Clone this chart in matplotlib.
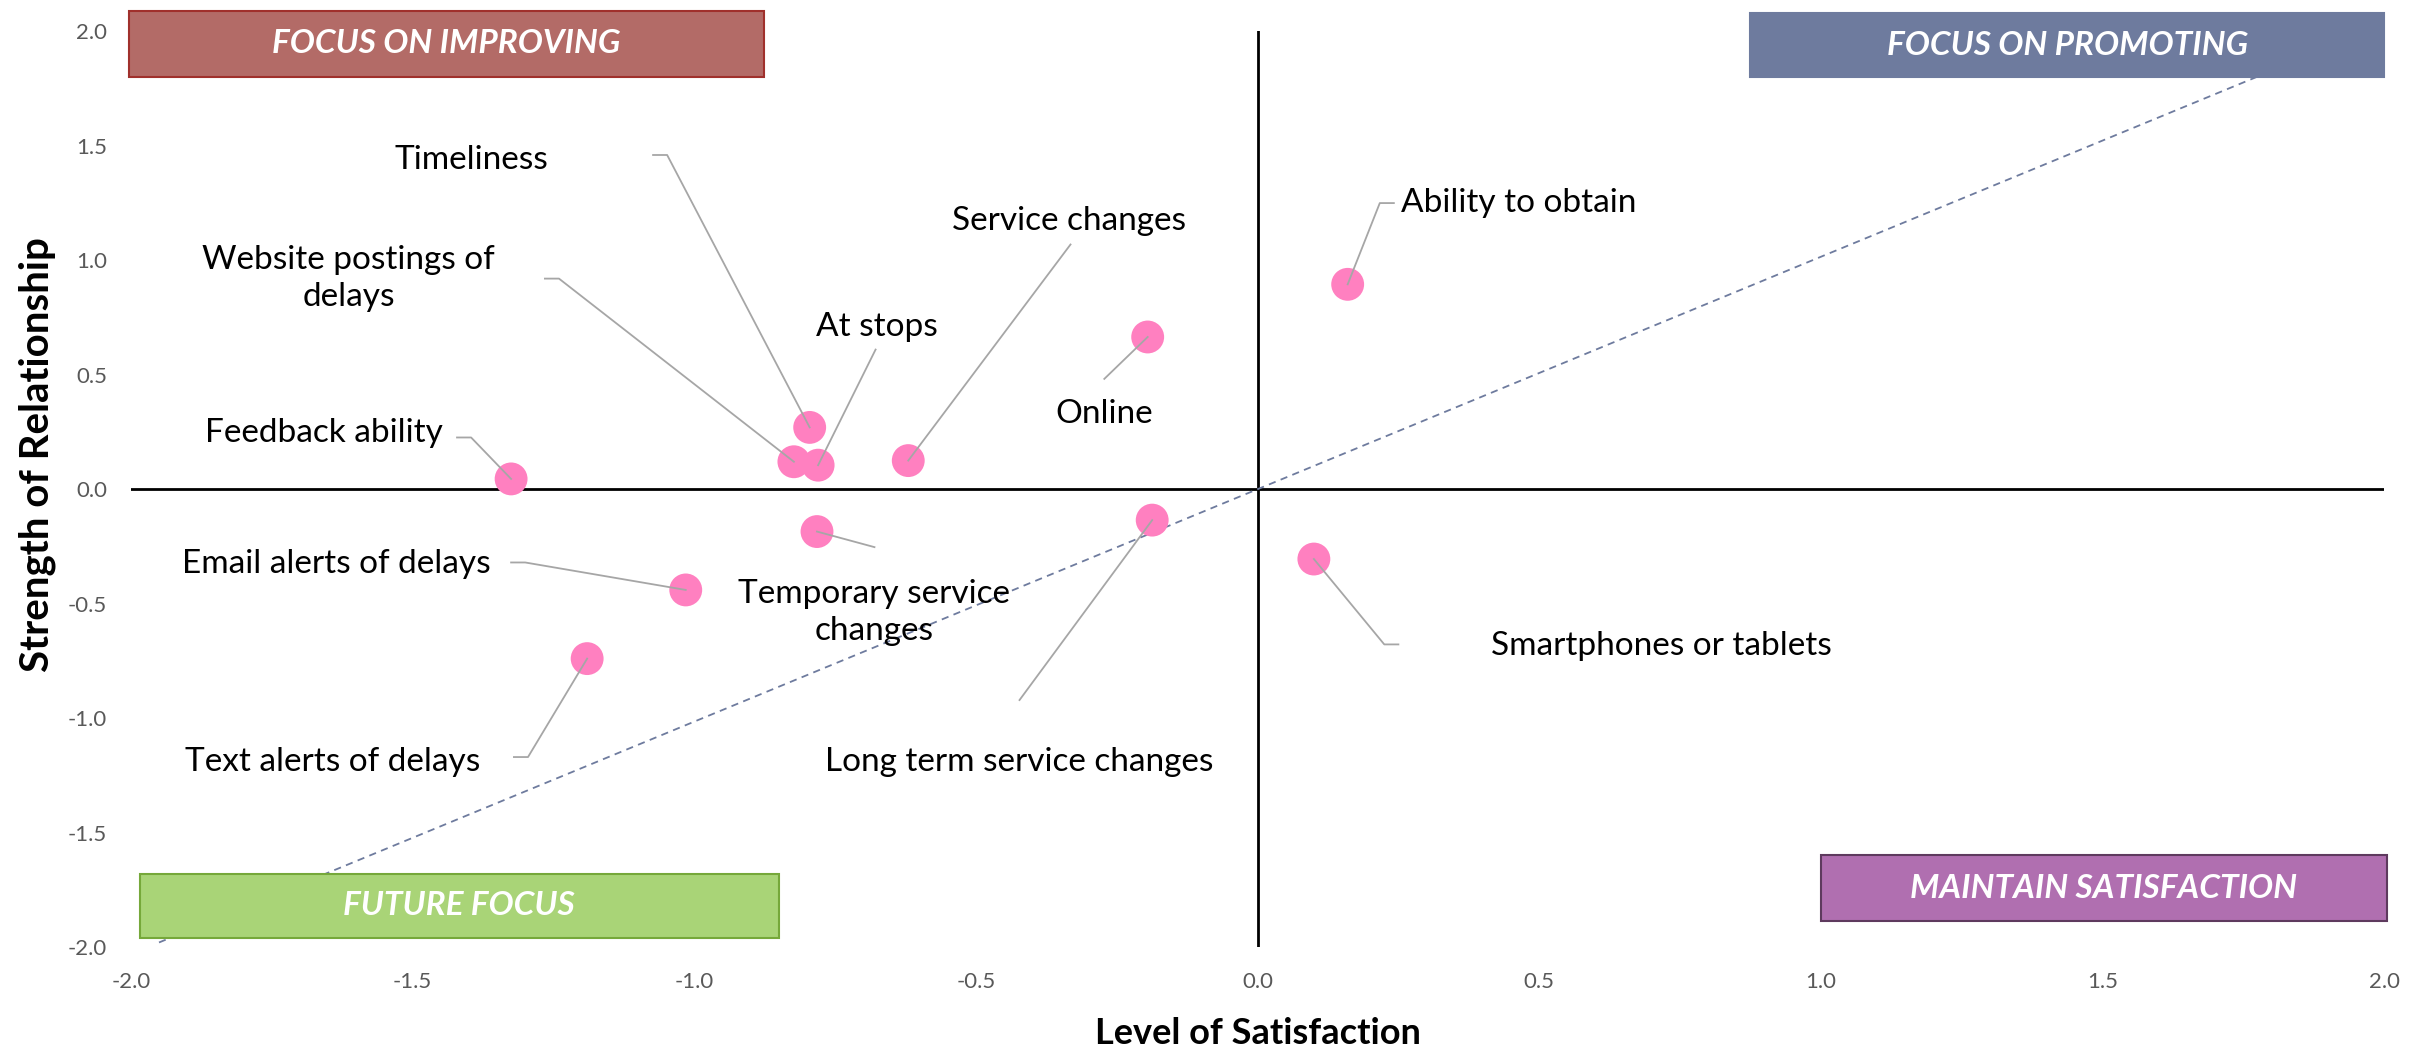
import matplotlib
matplotlib.use("Agg")
import matplotlib.pyplot as plt
from matplotlib.patches import Rectangle

plt.rcParams["font.family"] = ["Lato", "DejaVu Sans"]

# data
attributes = [
    "Ability to obtain", "Online", "Service changes", "Timeliness",
    "Website postings of\ndelays", "At stops", "Feedback ability",
    "Temporary service\nchanges", "Long term service changes",
    "Smartphones or tablets", "Email alerts of delays", "Text alerts of delays",
]
satisfaction = [0.16, -0.195, -0.62, -0.795, -0.823, -0.78, -1.325,
                -0.782, -0.187, 0.10, -1.015, -1.19]
relationship = [0.895, 0.665, 0.125, 0.27, 0.12, 0.105, 0.045,
                -0.185, -0.135, -0.305, -0.44, -0.74]

quadrants = ["FOCUS ON IMPROVING", "FOCUS ON PROMOTING", "FUTURE FOCUS", "MAINTAIN SATISFACTION"]
quad_fill = ["#B36B67", "#6E7B9E", "#A9D477", "#B06FB0"]
quad_edge = ["#A0302C", "#6E7B9E", "#76A83A", "#5E3A5E"]

# label placement (text centre, leader elbow, stub direction)
label_xy = [(0.464, 1.25), (-0.272, 0.33), (-0.335, 1.17), (-1.396, 1.44),
            (-1.613, 0.92), (-0.675, 0.71), (-1.657, 0.245), (-0.68, -0.54),
            (-0.4225, -1.19), (0.716, -0.685), (-1.635, -0.325), (-1.641, -1.19)]
elbow_xy = [(0.217, 1.25), (-0.272, 0.482), (-0.332, 1.069), (-1.048, 1.46),
            (-1.24, 0.92), (-0.678, 0.61), (-1.396, 0.226), (-0.68, -0.253),
            (-0.4225, -0.921), (0.225, -0.678), (-1.30, -0.32), (-1.295, -1.17)]
stub_dir = [1, 0, 0, -1, -1, 0, -1, 0, 0, 1, -1, -1]
quad_boxes = [(-2.003, 1.80, 1.127, 0.29), (0.875, 1.80, 1.125, 0.28),
              (-1.984, -1.96, 1.134, 0.28), (1.0, -1.885, 1.005, 0.285)]

fig = plt.figure(figsize=(24.23, 10.46), dpi=100)
ax = fig.add_axes([0.054, 0.0946, 0.930, 0.8754])
ax.set_xlim(-2, 2)
ax.set_ylim(-2, 2)
for s in ax.spines.values():
    s.set_visible(False)

ax.axhline(0, color="black", lw=2, zorder=1)
ax.axvline(0, color="black", lw=2, zorder=1)

# trend line
ax.plot([-1.95, 1.95], [-1.98, 1.98], linestyle=(0, (4, 3)), color="#6E7B9E", lw=1.3, zorder=1)

for (x0, y0, w, h), lab, fc, ec in zip(quad_boxes, quadrants, quad_fill, quad_edge):
    ax.add_patch(Rectangle((x0, y0), w, h, facecolor=fc, edgecolor=ec, lw=1.5, zorder=3, clip_on=False))
    ax.text(x0 + w / 2, y0 + h / 2, lab, color="white", fontsize=24, fontweight="bold",
            fontstyle="italic", ha="center", va="center", zorder=4)

ax.scatter(satisfaction, relationship, s=560, color="#FF80C0", edgecolors="none", zorder=5)

for i, name in enumerate(attributes):
    px, py = satisfaction[i], relationship[i]
    ex, ey = elbow_xy[i]
    xs = [px, ex]
    ys = [py, ey]
    if stub_dir[i] != 0:
        xs.append(ex + 0.025 * stub_dir[i])
        ys.append(ey)
    ax.plot(xs, ys, color="#A6A6A6", lw=1.3, zorder=6)
    tx, ty = label_xy[i]
    ax.text(tx, ty, name, fontsize=24, ha="center", va="center", color="black",
            linespacing=1.3, zorder=7)

ticks = [-2.0, -1.5, -1.0, -0.5, 0.0, 0.5, 1.0, 1.5, 2.0]
ax.set_xticks(ticks)
ax.set_yticks(ticks)
ax.set_xticklabels([f"{t:.1f}" for t in ticks])
ax.set_yticklabels([f"{t:.1f}" for t in ticks])
ax.tick_params(length=0, labelsize=16, labelcolor="#595959")
ax.tick_params(axis="x", pad=18)
ax.tick_params(axis="y", pad=17)

ax.set_xlabel("Level of Satisfaction", fontsize=26, fontweight="bold")
ax.set_ylabel("Strength of Relationship", fontsize=29, fontweight="bold")
ax.xaxis.set_label_coords(0.5, -0.0939)
ax.yaxis.set_label_coords(-0.0417, 0.538)
ax.xaxis.label.set_verticalalignment("center")
ax.yaxis.label.set_verticalalignment("center")

fig.savefig("out.png", dpi=100)
